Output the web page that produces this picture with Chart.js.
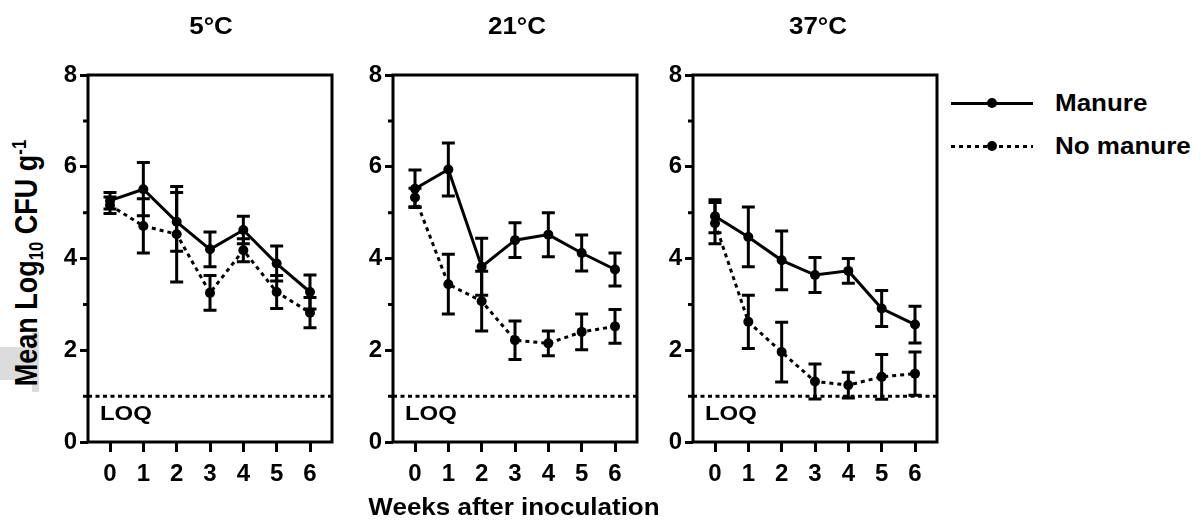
<!DOCTYPE html>
<html>
<head>
<meta charset="utf-8">
<title>Survival by temperature</title>
<script src="https://cdn.jsdelivr.net/npm/chart.js@4.4.1/dist/chart.umd.min.js"></script>
<style>
  body { margin: 0; background: #fff; width: 1201px; height: 529px; position: relative; overflow: hidden;
         font-family: "Liberation Sans", Arial, sans-serif; font-weight: bold; color: #000; }
  .panel { position: absolute; top: 0; }
  .txt { position: absolute; white-space: nowrap; font-size: 23px; line-height: 23px; }
  .center { transform-origin: 50% 0; transform: translateX(-50%) scaleX(1.13); }
  .left { transform-origin: 0 0; transform: scaleX(1.13); }
  .ytitle { position: absolute; white-space: nowrap; font-size: 27px; line-height: 27px;
            transform: translate(-50%, -50%) rotate(-90deg) scaleY(1.17); }
  .ytitle sub, .ytitle sup { font-size: 0.62em; line-height: 0; }
  .ytitle sub { vertical-align: -0.3em; }
  .ytitle sup { vertical-align: 0.55em; }
  .gray { position: absolute; background: #dcdcdc; }
  .leg-line { position: absolute; height: 3px; }
  .leg-dot { position: absolute; width: 10px; height: 10px; border-radius: 50%; background: #000; }
</style>
</head>
<body>

<div class="gray" style="left:0; top:347px; width:39px; height:33px;"></div>
<div class="gray" style="left:32px; top:332px; width:7px; height:60px;"></div>
<div class="ytitle" style="left:27px; top:263px;">Mean Log<sub>10</sub> CFU g<sup>-1</sup></div>

<div class="panel" style="left:13px;"><canvas id="c0" width="329" height="529"></canvas></div>
<div class="panel" style="left:318px;"><canvas id="c1" width="329" height="529"></canvas></div>
<div class="panel" style="left:618px;"><canvas id="c2" width="329" height="529"></canvas></div>

<div class="txt center" style="left:211px; top:15px;">5°C</div>
<div class="txt center" style="left:517px; top:15px;">21°C</div>
<div class="txt center" style="left:818px; top:15px;">37°C</div>

<div class="leg-line" style="left:951px; top:102px; width:82px; background:#000;"></div>
<div class="leg-dot" style="left:987px; top:98px;"></div>
<div class="txt left" style="left:1055px; top:92px;">Manure</div>
<div class="leg-line" style="left:951px; top:145px; width:82px; background:repeating-linear-gradient(to right, #000 0 4px, transparent 4px 8px);"></div>
<div class="leg-dot" style="left:987px; top:141px;"></div>
<div class="txt left" style="left:1055px; top:135px;">No manure</div>

<div class="txt center" style="left:514px; top:496px;">Weeks after inoculation</div>

<script>
// weeks after inoculation
const weeks = [0, 1, 2, 3, 4, 5, 6];
const xMin = -0.66;
const xMax = 6.66;

// y axis
const yTicks = [0, 2, 4, 6, 8];
const yMinorTicks = [1, 3, 5, 7];
const loq = 1;

// 5 C
const manure5 = [5.26, 5.51, 4.80, 4.20, 4.62, 3.89, 3.27];
const manure5Err = [0.18, 0.58, 0.64, 0.38, 0.30, 0.38, 0.37];
const noManure5 = [5.16, 4.71, 4.53, 3.25, 4.18, 3.27, 2.82];
const noManure5Err = [0.18, 0.59, 1.04, 0.38, 0.25, 0.36, 0.33];

// 21 C
const manure21 = [5.52, 5.94, 3.82, 4.40, 4.52, 4.12, 3.76];
const manure21Err = [0.41, 0.58, 0.62, 0.38, 0.48, 0.39, 0.36];
const noManure21 = [5.33, 3.44, 3.07, 2.22, 2.15, 2.40, 2.52];
const noManure21Err = [0.20, 0.65, 0.65, 0.42, 0.27, 0.39, 0.37];

// 37 C
const manure37 = [4.92, 4.47, 3.96, 3.64, 3.73, 2.91, 2.56];
const manure37Err = [0.36, 0.65, 0.64, 0.38, 0.27, 0.39, 0.40];
const noManure37 = [4.77, 2.62, 1.96, 1.32, 1.24, 1.42, 1.49];
const noManure37Err = [0.45, 0.58, 0.65, 0.38, 0.28, 0.49, 0.47];

const fontFamily = '"Liberation Sans", Arial, sans-serif';

// error bars, box round the plot, minor ticks and the LOQ label
const panelDecor = {
  id: 'panelDecor',
  beforeDatasetsDraw(chart) {
    const { ctx, scales: { x, y } } = chart;
    ctx.save();
    ctx.strokeStyle = '#000';
    ctx.lineWidth = 3;
    chart.data.datasets.forEach(ds => {
      if (!ds.err) return;
      ds.data.forEach((p, i) => {
        const px = x.getPixelForValue(p.x);
        const top = y.getPixelForValue(p.y + ds.err[i]);
        const bot = y.getPixelForValue(p.y - ds.err[i]);
        ctx.beginPath();
        ctx.moveTo(px, top); ctx.lineTo(px, bot);
        ctx.moveTo(px - 6.5, top); ctx.lineTo(px + 6.5, top);
        ctx.moveTo(px - 6.5, bot); ctx.lineTo(px + 6.5, bot);
        ctx.stroke();
      });
    });
    ctx.restore();
  },
  afterDraw(chart) {
    const { ctx, chartArea: a, scales: { y } } = chart;
    ctx.save();
    ctx.strokeStyle = '#000';
    ctx.lineWidth = 3;
    ctx.strokeRect(a.left, a.top, a.right - a.left, a.bottom - a.top);
    ctx.beginPath();
    yMinorTicks.forEach(v => {
      const py = y.getPixelForValue(v);
      ctx.moveTo(a.left - 5, py);
      ctx.lineTo(a.left, py);
    });
    ctx.stroke();
    ctx.font = 'bold 21px ' + fontFamily;
    ctx.fillStyle = '#000';
    ctx.textBaseline = 'alphabetic';
    ctx.translate(a.left + 12, y.getPixelForValue(loq) + 24);
    ctx.scale(1.14, 1);
    ctx.fillText('LOQ', 0, 0);
    ctx.restore();
  }
};

function points(values) {
  return weeks.map((w, i) => ({ x: w, y: values[i] }));
}

function makePanel(id, manure, manureErr, noManure, noManureErr) {
  const tickFont = { family: fontFamily, size: 24, weight: 'bold' };
  new Chart(document.getElementById(id), {
    type: 'line',
    data: {
      datasets: [
        { label: 'Manure', data: points(manure), err: manureErr,
          borderColor: '#000', borderWidth: 3, pointRadius: 5,
          pointBackgroundColor: '#000', pointBorderWidth: 0 },
        { label: 'No manure', data: points(noManure), err: noManureErr,
          borderColor: '#000', borderWidth: 3, borderDash: [4, 4], pointRadius: 5,
          pointBackgroundColor: '#000', pointBorderWidth: 0 },
        { label: 'LOQ', data: [{ x: xMin, y: loq }, { x: xMax, y: loq }],
          borderColor: '#000', borderWidth: 3, borderDash: [4, 3.5], pointRadius: 0 }
      ]
    },
    options: {
      responsive: false,
      animation: false,
      devicePixelRatio: 1,
      layout: { autoPadding: false, padding: { top: 75, bottom: 37, left: 0, right: 10 } },
      plugins: { legend: { display: false }, tooltip: { enabled: false } },
      scales: {
        x: {
          type: 'linear', min: xMin, max: xMax,
          afterBuildTicks: s => { s.ticks = weeks.map(v => ({ value: v })); },
          afterFit: s => { s.height = 50; },
          border: { display: false },
          grid: { drawOnChartArea: false, tickLength: 10, lineWidth: 3, tickWidth: 3, color: '#000', tickColor: '#000' },
          ticks: { color: '#000', font: tickFont, padding: 8, maxRotation: 0, autoSkip: false }
        },
        y: {
          min: 0, max: 8,
          afterBuildTicks: s => { s.ticks = yTicks.map(v => ({ value: v })); },
          afterFit: s => { s.width = 75; },
          border: { display: false },
          grid: { drawOnChartArea: false, tickLength: 8, lineWidth: 3, tickWidth: 3, color: '#000', tickColor: '#000' },
          ticks: { color: '#000', font: tickFont, padding: 3 }
        }
      }
    },
    plugins: [panelDecor]
  });
}

makePanel('c0', manure5, manure5Err, noManure5, noManure5Err);
makePanel('c1', manure21, manure21Err, noManure21, noManure21Err);
makePanel('c2', manure37, manure37Err, noManure37, noManure37Err);
</script>
</body>
</html>
